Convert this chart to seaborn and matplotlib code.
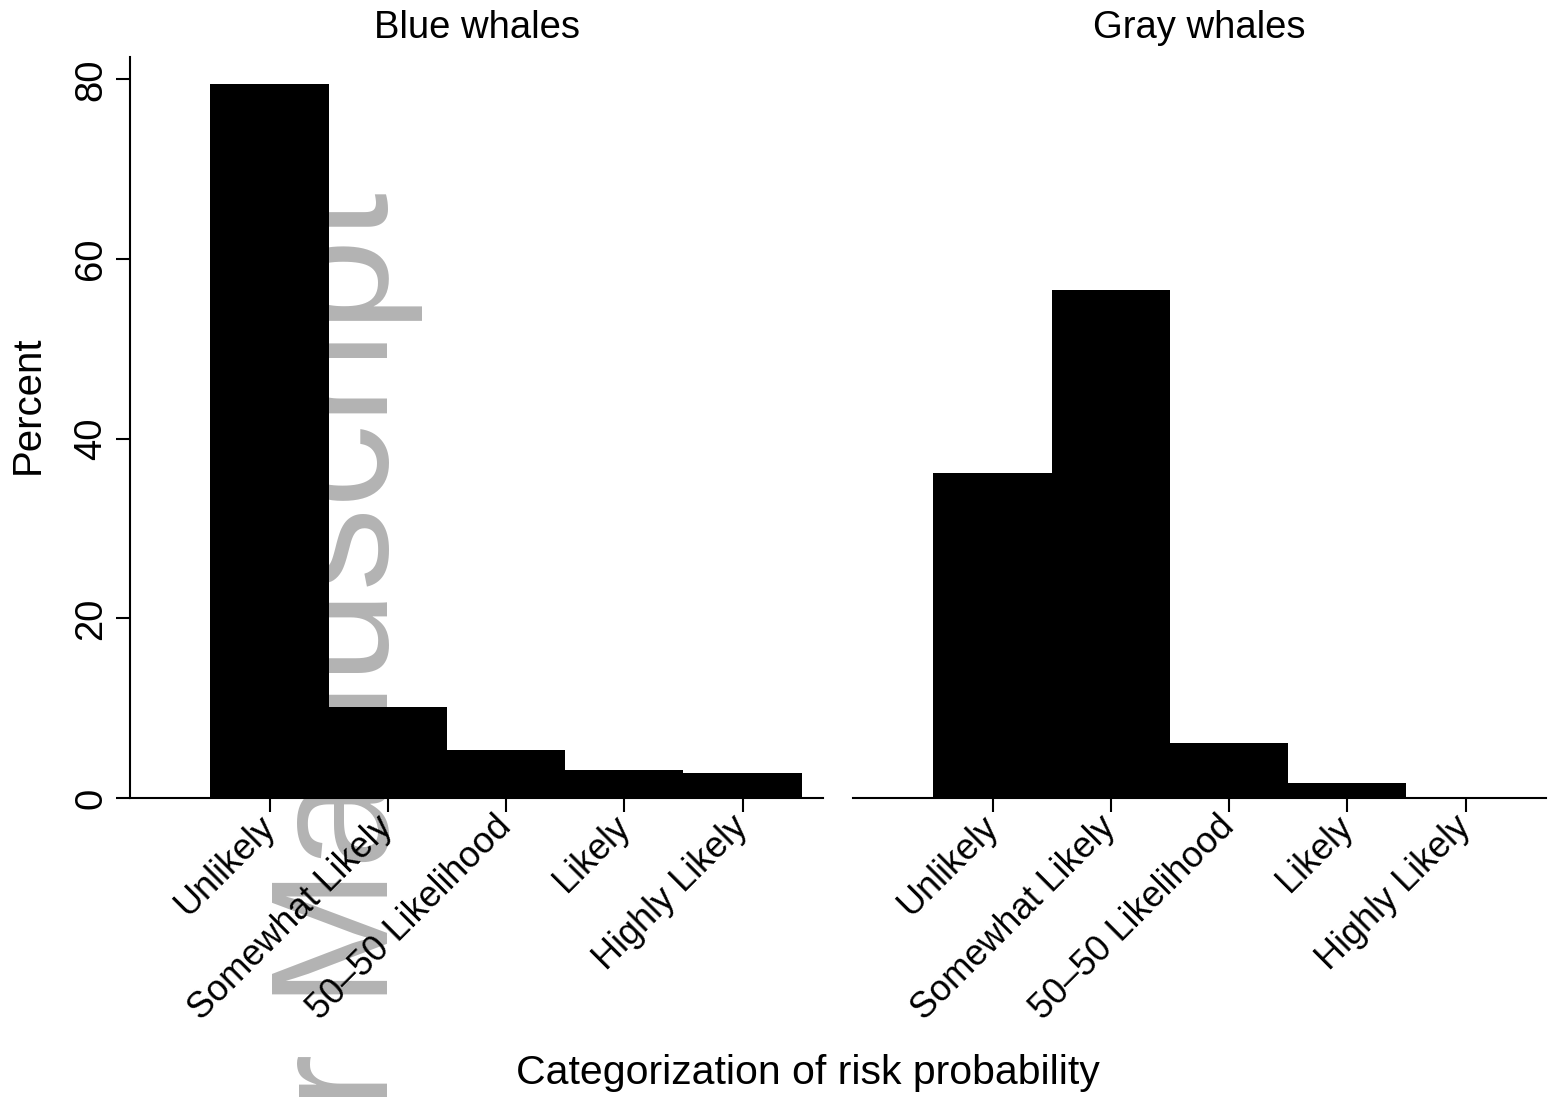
import matplotlib
matplotlib.use("Agg")
import matplotlib.pyplot as plt
import seaborn as sns
import pandas as pd

# Survey responses: share of respondents per risk category
categories = ["Unlikely", "Somewhat Likely", "50\u201350 Likelihood", "Likely", "Highly Likely"]
blue_pct = [79.5, 10.1, 5.3, 3.1, 2.8]
gray_pct = [36.2, 56.6, 6.1, 1.7, 0.0]
panel_titles = ["Blue whales", "Gray whales"]
y_ticks = [0, 20, 40, 60, 80]

sns.set_theme(style="ticks")
plt.rcParams["font.family"] = ["Liberation Sans", "DejaVu Sans"]
plt.rcParams["text.color"] = "black"
plt.rcParams["axes.labelcolor"] = "black"
plt.rcParams["axes.titlecolor"] = "black"
plt.rcParams["axes.linewidth"] = 1.5
plt.rcParams["xtick.major.width"] = 1.5
plt.rcParams["ytick.major.width"] = 1.5
plt.rcParams["xtick.major.size"] = 10
plt.rcParams["ytick.major.size"] = 10
plt.rcParams["xtick.color"] = "black"
plt.rcParams["ytick.color"] = "black"
plt.rcParams["axes.edgecolor"] = "black"

W, H = 1556, 1097
fig = plt.figure(figsize=(W / 100, H / 100), dpi=100)
fig.patch.set_facecolor("white")

ax_bottom = (H - 798) / H
ax_height = (798 - 57) / H
ax_w = 693 / W
ax1 = fig.add_axes([130 / W, ax_bottom, ax_w, ax_height])
ax2 = fig.add_axes([853 / W, ax_bottom, ax_w, ax_height])

for ax, vals, title in zip([ax1, ax2], [blue_pct, gray_pct], panel_titles):
    df = pd.DataFrame({"category": categories, "percent": vals})
    sns.barplot(data=df, x="category", y="percent", order=categories, ax=ax,
                color="black", saturation=1, width=1.0, edgecolor="none",
                linewidth=0)
    ax.set_xlim(-1.18, 4.68)
    ax.set_ylim(0, 82.5)
    ax.set_yticks(y_ticks)
    ax.set_xlabel("")
    ax.set_ylabel("")
    ax.patch.set_alpha(0)
    ax.set_title(title, fontsize=27.5, pad=14, color="black")
    ax.tick_params(axis="x", labelsize=26, pad=7, colors="black")
    ax.tick_params(axis="y", labelsize=27.5, pad=5, colors="black")
    for lab in ax.get_xticklabels():
        lab.set_rotation(45)
        lab.set_ha("right")
        lab.set_va("center")
        lab.set_rotation_mode("anchor")
    for lab in ax.get_yticklabels():
        lab.set_rotation(90)
        lab.set_va("center")
    sns.despine(ax=ax)

ax2.spines["left"].set_visible(False)
ax2.tick_params(axis="y", left=False, labelleft=False)

fig.text(28 / W, 1 - 405 / H, "Percent", rotation=90, ha="center", va="center",
         fontsize=29, color="black")
fig.text(808 / W, 1 - 1084 / H, "Categorization of risk probability",
         ha="center", va="baseline", fontsize=29.5, color="black")

# Background stamp running up the page behind the plot
fig.text(388 / W, 1 - 192 / H, "Author Manuscript", rotation=90,
         rotation_mode="anchor", ha="right", va="baseline",
         fontsize=120, color="#b3b3b3", family="Liberation Sans", zorder=-1)

fig.savefig("out.png", dpi=100, facecolor="white")
